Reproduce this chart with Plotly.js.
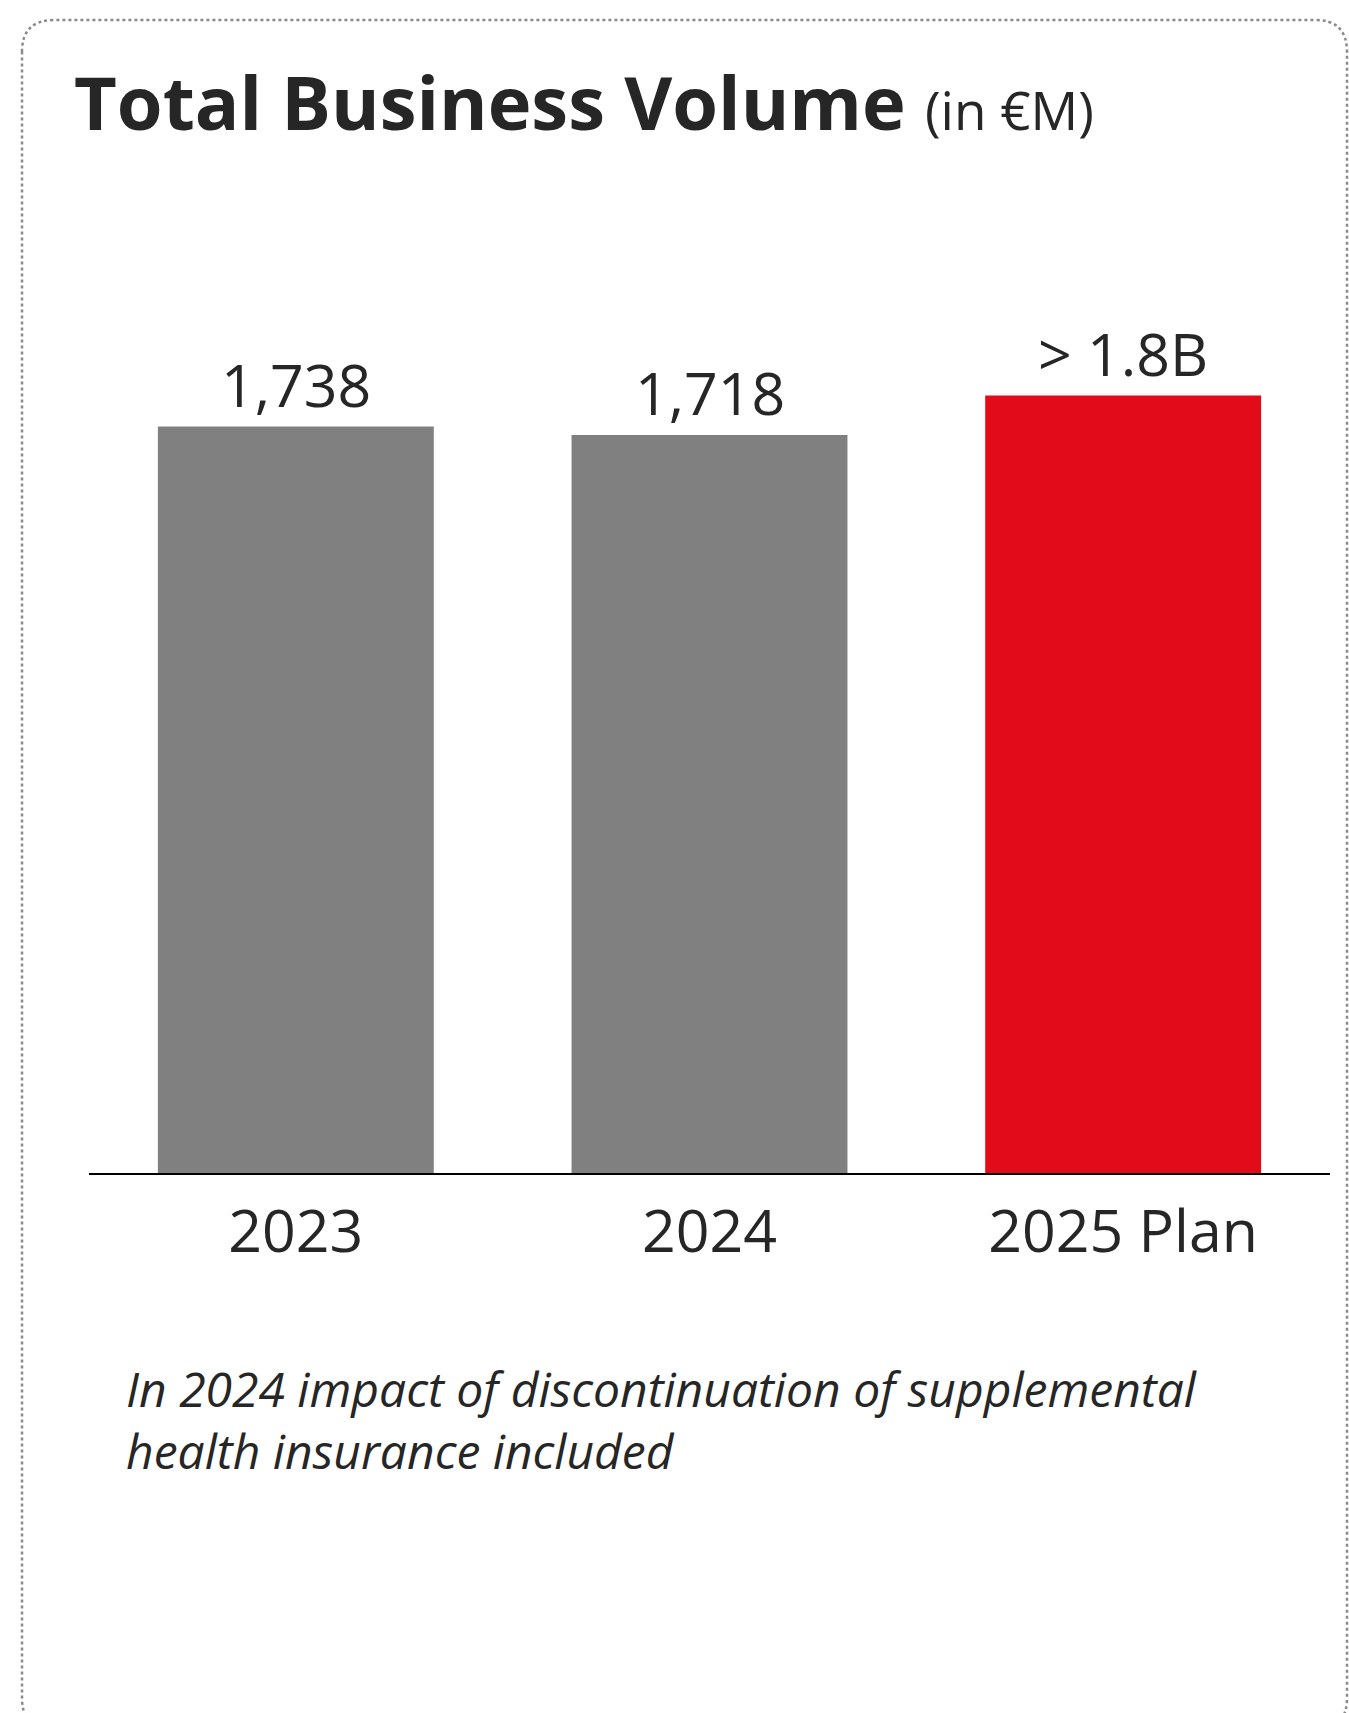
<!DOCTYPE html>
<html>
<head>
<meta charset="utf-8">
<script src="https://cdn.plot.ly/plotly-3.0.1.min.js"></script>
<style>
  html, body { margin: 0; padding: 0; background: #ffffff; }
  #chart { width: 1349px; height: 1713px; }
</style>
</head>
<body>
<div id="chart"></div>
<script>
// ---- data ----
const categories = ["2023", "2024", "2025 Plan"];
const values = [1738, 1718, 1810];
const valueLabels = ["1,738", "1,718", "> 1.8B"];
const barColors = ["#808080", "#808080", "#E20B19"];
const titleMain = "Total Business Volume";
const titleUnit = "(in €M)";
const footnoteLines = ["In 2024 impact of discontinuation of supplemental", "health insurance included"];

// ---- layout helpers (pixel -> paper) ----
const W = 1349, H = 1713;
const M = { l: 89, r: 19, t: 314, b: 540 };
const PW = W - M.l - M.r, PH = H - M.t - M.b;
const px = x => (x - M.l) / PW;
const py = y => (H - M.b - y) / PH;

// rounded dotted frame
const fx0 = 22, fy0 = 20, fx1 = 1347, fy1 = 1730, rad = 32;
const framePath =
  `M ${px(fx0)},${py(fy0 + rad)} ` +
  `Q ${px(fx0)},${py(fy0)} ${px(fx0 + rad)},${py(fy0)} ` +
  `L ${px(fx1 - rad)},${py(fy0)} ` +
  `Q ${px(fx1)},${py(fy0)} ${px(fx1)},${py(fy0 + rad)} ` +
  `L ${px(fx1)},${py(fy1 - rad)} ` +
  `Q ${px(fx1)},${py(fy1)} ${px(fx1 - rad)},${py(fy1)} ` +
  `L ${px(fx0 + rad)},${py(fy1)} ` +
  `Q ${px(fx0)},${py(fy1)} ${px(fx0)},${py(fy1 - rad)} Z`;

const textColor = "#262626";
const font = "Open Sans, Noto Sans, sans-serif";

const trace = {
  type: "bar",
  x: categories,
  y: values,
  marker: { color: barColors },
  hoverinfo: "skip"
};

const annotations = categories.map((c, i) => ({
  x: i, y: values[i], xref: "x", yref: "y",
  text: valueLabels[i],
  showarrow: false,
  xanchor: "center", yanchor: "bottom",
  yshift: 1,
  font: { family: font, size: 59, color: textColor }
}));

annotations.push({
  xref: "paper", yref: "paper",
  x: px(124), y: py(1419),
  xanchor: "left", yanchor: "middle",
  align: "left",
  showarrow: false,
  text: "<i>" + footnoteLines.join("<br>") + "</i>",
  font: { family: font, size: 48, color: textColor }
});

const layout = {
  width: W, height: H,
  margin: M,
  paper_bgcolor: "#ffffff",
  plot_bgcolor: "#ffffff",
  showlegend: false,
  bargap: 0.333,
  title: {
    text: "<b>" + titleMain + "</b> <span style='font-size:53px'>" + titleUnit + "</span>",
    x: 74 / W, xanchor: "left", xref: "container",
    y: 1 - 104 / H, yanchor: "middle", yref: "container",
    font: { family: font, size: 74, color: textColor }
  },
  xaxis: {
    type: "category",
    range: [-0.5, 2.5],
    showline: true, linecolor: "#000000", linewidth: 2,
    showgrid: false, zeroline: false,
    ticks: "",
    ticklabelstandoff: 6,
    tickfont: { family: font, size: 59, color: textColor },
    fixedrange: true
  },
  yaxis: {
    range: [0, 2000],
    visible: false,
    showgrid: false, zeroline: false,
    fixedrange: true
  },
  shapes: [{
    type: "path", xref: "paper", yref: "paper",
    path: framePath,
    line: { color: "#8a8a8a", width: 2.5, dash: "dot" },
    fillcolor: "rgba(0,0,0,0)",
    layer: "below"
  }],
  annotations: annotations
};

Plotly.newPlot("chart", [trace], layout, { displayModeBar: false, staticPlot: true });
</script>
</body>
</html>
